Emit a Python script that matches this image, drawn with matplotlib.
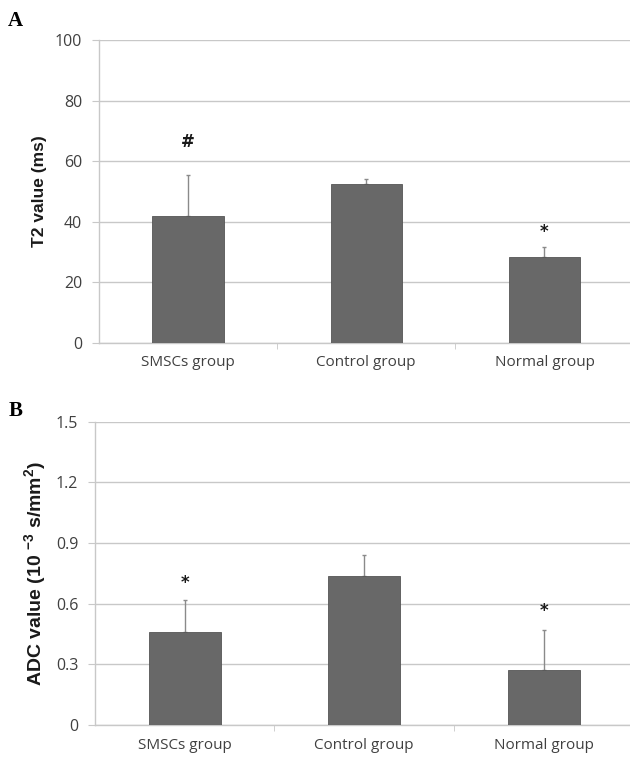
import matplotlib
matplotlib.use("Agg")
import matplotlib.pyplot as plt
import numpy as np

plt.rcParams["mathtext.default"] = "regular"

categories = ["SMSCs group", "Control group", "Normal group"]
t2_values = [42.0, 52.4, 28.5]
t2_err = [13.4, 1.7, 3.3]
t2_marks = ["#", "", "*"]
adc_values = [0.459, 0.738, 0.272]
adc_err = [0.160, 0.104, 0.198]
adc_marks = ["*", "", "*"]

t2_ticks = [0, 20, 40, 60, 80, 100]
t2_ticklabels = ["0", "20", "40", "60", "80", "100"]
adc_ticks = [0, 0.3, 0.6, 0.9, 1.2, 1.5]
adc_ticklabels = ["0", "0.3", "0.6", "0.9", "1.2", "1.5"]

fig = plt.figure(figsize=(6.3, 7.61), dpi=100)

bar_color = "#686868"
grid_color = "#c8c8c8"
tick_color = "#404040"

def panel(rect, values, errs, marks, ticks, ticklabels, ylabel, ylabel_size, letter, letter_xy, mark_offsets):
    ax = fig.add_axes(rect)
    x = np.arange(len(categories))
    ax.bar(x, values, width=0.4, color=bar_color, edgecolor="#555555", linewidth=0.6, zorder=3)
    ax.errorbar(x, values, yerr=[np.zeros(len(values)), errs], fmt="none",
                ecolor="#8a8a8a", elinewidth=1.0, capsize=1.2, capthick=1.0, zorder=2)
    ymax = ticks[-1]
    ax.set_ylim(0, ymax)
    ax.set_xlim(-0.5, 2.48)
    ax.set_yticks(ticks)
    ax.set_yticklabels(ticklabels, fontsize=11.5, color=tick_color, family="Open Sans")
    ax.set_xticks(x)
    ax.set_xticklabels(categories, fontsize=11, color=tick_color, family="Open Sans")
    ax.set_xticks([0.5, 1.5], minor=True)
    ax.tick_params(axis="x", which="major", length=0, pad=9)
    ax.tick_params(axis="x", which="minor", length=4, color=grid_color, direction="out")
    ax.tick_params(axis="y", length=5, color=grid_color, pad=7)
    ax.yaxis.grid(True, color=grid_color, linewidth=1.0, zorder=0)
    ax.set_axisbelow(True)
    for s in ["top", "right"]:
        ax.spines[s].set_visible(False)
    for s in ["left", "bottom"]:
        ax.spines[s].set_color(grid_color)
        ax.spines[s].set_linewidth(1.0)
    ax.set_ylabel(ylabel, fontsize=ylabel_size, fontweight="bold", color="#1a1a1a",
                  family="Liberation Sans", labelpad=6)
    for xi, v, e, m, off in zip(x, values, errs, marks, mark_offsets):
        if m:
            ax.text(xi, v + e + off, m, ha="center", va="bottom", fontsize=12,
                    fontweight="bold", color="#1a1a1a", family="DejaVu Sans")
    fig.text(letter_xy[0], letter_xy[1], letter, fontsize=15, fontweight="bold",
             family="Liberation Serif", ha="left", va="center")
    return ax

panel([0.157, 0.5493, 0.843, 0.398], t2_values, t2_err, t2_marks, t2_ticks, t2_ticklabels,
      "T2 value (ms)", 12.5, "A", (0.013, 0.972), [8, 0, 2])
panel([0.1508, 0.0473, 0.849, 0.3986], adc_values, adc_err, adc_marks, adc_ticks, adc_ticklabels,
      r"ADC value (10 $^{-3}$ s/mm$^{2}$)", 14, "B", (0.013, 0.46), [0.04, 0, 0.05])

fig.savefig("out.png", dpi=100)
